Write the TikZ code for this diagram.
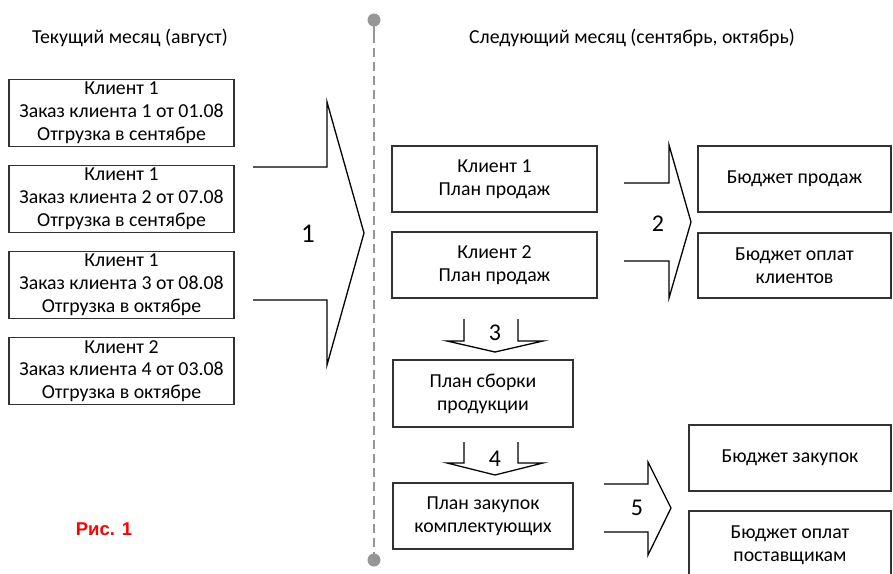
\documentclass[tikz,border=0pt]{standalone}
\usepackage{fontspec}
\setmainfont{Carlito}
\newfontfamily\arialfont{Liberation Sans}
\definecolor{divgray}{RGB}{150,150,150}
\definecolor{boxline}{RGB}{50,50,50}
\begin{document}
\begin{tikzpicture}[x=1pt,y=-1pt,
  box/.style={draw=boxline,line width=1.4pt,align=center,inner sep=0pt,font=\fontsize{19.8}{22.8}\selectfont},
  bigarrow/.style={draw=black,line width=1.3pt,line join=miter},
  lbl/.style={font=\fontsize{24}{26}\selectfont,inner sep=0pt},
  ttl/.style={font=\fontsize{19.8}{22}\selectfont,inner sep=0pt}]
\useasboundingbox (0,0) rectangle (893,573);
\clip (0,0) rectangle (893,573);
% titles
\node[ttl] (t1) at (130,38) {Текущий месяц (август)};
\node[ttl] (t2) at (632,38) {Следующий месяц (сентябрь, октябрь)};
% divider
\fill[divgray] (374,20) circle (6.5);
\fill[divgray] (374,560) circle (6.5);
\draw[divgray,line width=1.3pt] (374,20) -- (374,34);
\draw[divgray,line width=1.3pt,dash pattern=on 9pt off 5pt] (374,34) -- (374,560);
% left boxes
\node[box,minimum width=225pt,minimum height=67pt] (o1) at (121.5,113) {Клиент 1\\Заказ клиента 1 от 01.08\\Отгрузка в сентябре};
\node[box,minimum width=225pt,minimum height=67pt] (o2) at (121.5,199) {Клиент 1\\Заказ клиента 2 от 07.08\\Отгрузка в сентябре};
\node[box,minimum width=225pt,minimum height=67pt] (o3) at (121.5,285) {Клиент 1\\Заказ клиента 3 от 08.08\\Отгрузка в октябре};
\node[box,minimum width=225pt,minimum height=67pt] (o4) at (121.5,371) {Клиент 2\\Заказ клиента 4 от 03.08\\Отгрузка в октябре};
% arrow 1
\draw[bigarrow] (253,167) -- (327,167) -- (327,102) -- (364,233) -- (327,365) -- (327,300) -- (253,300);
\node[lbl,font=\fontsize{27}{28}\selectfont] (n1) at (308,234) {1};
% middle boxes
\node[box,minimum width=205pt,minimum height=66pt] (p1) at (494.5,179) {Клиент 1\\План продаж};
\node[box,minimum width=205pt,minimum height=66pt] (p2) at (494.5,265) {Клиент 2\\План продаж};
\node[box,minimum width=180pt,minimum height=67pt] (p3) at (483,393.5) {План сборки\\продукции};
\node[box,minimum width=180pt,minimum height=66pt] (p4) at (483,516) {План закупок\\комплектующих};
% arrow 3 and 4
\draw[bigarrow] (464,319) -- (464,341) -- (447,341) -- (495,352) -- (543,341) -- (518,341) -- (518,319);
\node[lbl] (n3) at (495,333) {3};
\draw[bigarrow] (464,442) -- (464,463) -- (447,463) -- (495,475) -- (543,463) -- (518,463) -- (518,442);
\node[lbl] (n4) at (495,459) {4};
% arrow 2
\draw[bigarrow] (624,183) -- (669,183) -- (669,145) -- (691,222) -- (669,298) -- (669,261) -- (624,261);
\node[lbl] (n2) at (658,224) {2};
% right boxes
\node[box,minimum width=193pt,minimum height=66pt] (b1) at (794.5,179) {Бюджет продаж};
\node[box,minimum width=193pt,minimum height=65pt] (b2) at (794.5,265.5) {Бюджет оплат\\клиентов};
\node[box,minimum width=202pt,minimum height=66pt] (b3) at (790,458) {Бюджет закупок};
\draw[draw=boxline,line width=1.4pt] (689,585) -- (689,511) -- (891,511) -- (891,585);
\node[box,draw=none] (b4) at (790,545) {Бюджет оплат\\поставщикам};
% arrow 5
\draw[bigarrow] (604,484) -- (648,484) -- (648,462) -- (671,508) -- (648,555) -- (648,532) -- (604,532);
\node[lbl] (n5) at (637,508) {5};
% caption
\node[inner sep=0pt,text=red,font=\arialfont\bfseries\fontsize{18.5}{20}\selectfont] (cap) at (104,529) {Рис. 1};
\end{tikzpicture}
\end{document}
